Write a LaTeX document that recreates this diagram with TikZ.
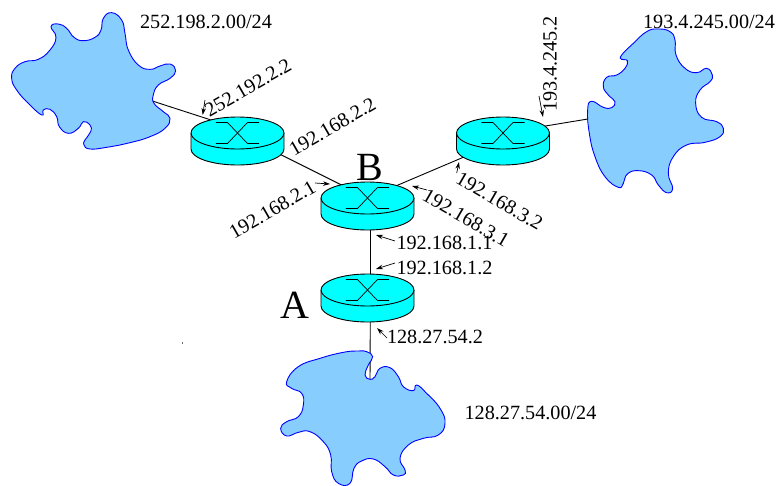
\documentclass[tikz,border=0pt]{standalone}
\usepackage{fontspec}
\setmainfont{Liberation Serif}
\usetikzlibrary{shapes.geometric,arrows.meta}

\definecolor{netblue}{RGB}{135,206,255}
\definecolor{rtrcyan}{RGB}{0,255,255}

\tikzset{
  rtr/.style={ellipse,minimum width=93pt,minimum height=32pt,inner sep=0pt},
  addr/.style={font=\fontsize{20.2}{24}\selectfont,inner sep=1pt},
  big/.style={font=\fontsize{40}{44}\selectfont,inner sep=0pt},
  ptr/.style={-{Stealth[length=7pt,width=4.5pt]},line width=0.7pt},
  link/.style={black,line width=0.9pt},
  cloud/.style={draw=blue,fill=netblue,line width=0.9pt,smooth cycle,tension=0.8},
  traced/.style={x=0.33333pt,y=-0.33333pt}
}

% one router, drawn over the links
\newcommand{\router}[1]{
  \begin{scope}[shift={(#1.center)}]
    \draw[link,fill=rtrcyan] (-46.5,0) -- (-46.5,-16) arc[start angle=180,end angle=360,x radius=46.5,y radius=16] -- (46.5,0);
    \draw[link,fill=rtrcyan] (0,0) ellipse [x radius=46.5,y radius=16];
    \draw[line width=0.7pt] (-21.7,10.5) -- (-10,10.5) -- (10,-10.5) -- (21.7,-10.5);
    \draw[line width=0.7pt] (21.7,10.5) -- (10,10.5) -- (-10,-10.5) -- (-21.7,-10.5);
  \end{scope}
}

\begin{document}
\begin{tikzpicture}[x=1pt,y=1pt]
\useasboundingbox (0,0) rectangle (779,-485);

% routers
\node [rtr] (rl) at (237.5,-133) {};
\node [rtr] (rr) at (503,-133) {};
\node [rtr] (rb) at (367.5,-198) {};
\node [rtr] (ra) at (367.5,-290) {};

% networks
\coordinate (netl) at (140,-97);
\coordinate (netr) at (600,-117);
\coordinate (netb) at (370,-382);

% links
\draw [link] (netl) -- (rl.154);
\draw [link] (rl.center) -- (rb.center);
\draw [link] (rb.center) -- (rr.220);
\draw [link] (rr.center) -- (netr);
\draw [link] (rb.-80) -- (ra.80);
\draw [link] (ra.-80) -- (netb);

% clouds
\path [cloud,traced] plot coordinates {(335,38) (310,55) (303,90) (285,112) (250,122) (222,112) (200,85) (175,72) (153,80) (168,112) (150,150) (115,178) (75,185) (45,205) (35,235) (50,270) (85,310) (125,345) (130,330) (150,328) (170,350) (178,380) (205,400) (235,385) (250,365) (270,375) (272,395) (255,420) (252,435) (270,447) (320,442) (390,428) (450,410) (495,385) (510,355) (490,335) (462,310) (460,285) (475,255) (510,235) (527,212) (510,192) (480,198) (450,208) (415,195) (385,150) (375,100) (365,60)};
\begin{scope}[shift={(390,0)}]
\path [cloud,traced] plot coordinates {(805,87) (770,95) (730,130) (695,165) (695,178) (712,182) (705,205) (680,225) (650,232) (640,260) (655,285) (675,305) (665,323) (640,322) (605,304) (593,330) (598,400) (615,470) (645,530) (685,562) (700,550) (712,522) (745,512) (785,525) (805,555) (830,578) (848,565) (835,520) (850,470) (890,435) (945,427) (990,410) (1000,385) (980,365) (935,352) (917,310) (930,270) (960,245) (967,225) (950,205) (920,218) (885,205) (858,165) (855,120) (840,95)};
\end{scope}
\begin{scope}[shift={(230,-225)}]
\path [cloud,traced] plot coordinates {(385,378) (340,382) (270,400) (205,425) (170,470) (185,490) (215,505) (220,540) (205,575) (170,590) (152,610) (170,633) (205,622) (240,620) (280,650) (302,690) (305,740) (325,775) (360,775) (372,730) (395,708) (430,702) (465,725) (490,750) (520,750) (525,735) (510,700) (535,660) (580,640) (625,630) (645,595) (630,550) (590,505) (560,480) (550,497) (520,485) (505,455) (480,428) (450,430) (435,455) (420,463) (405,450) (415,420) (428,395) (410,380)};
\end{scope}

\router{rl}
\router{rr}
\router{rb}
\router{ra}

% addresses
\node [addr] (nl) at (206,-21.5) {252.198.2.00/24};
\node [addr] (nr) at (709,-21.5) {193.4.245.00/24};
\node [addr] (nb) at (530.5,-413) {128.27.54.00/24};
\node [addr,rotate=30] (l1) at (248,-87.5) {252.192.2.2};
\node [addr,rotate=30] (l2) at (332.5,-126.5) {192.168.2.2};
\node [addr,rotate=30] (b2) at (272.5,-209.5) {192.168.2.1};
\node [addr,rotate=90] (r1) at (550,-64) {193.4.245.2};
\node [addr,rotate=-30] (r2) at (499.5,-201) {192.168.3.2};
\node [addr,rotate=-30] (b3) at (466,-218) {192.168.3.1};
\node [addr] (b1) at (444.5,-243) {192.168.1.1};
\node [addr] (a1) at (444.5,-268) {192.168.1.2};
\node [addr] (a0) at (435,-336.7) {128.27.54.2};
\node [big] (namea) at (295,-305) {A};
\node [big] (nameb) at (369.5,-167.5) {B};
\node [fill=black!60,inner sep=0pt,minimum size=1.2pt] (speck) at (182.5,-343) {};

% arrows to the interfaces
\foreach \n/\p in {tl1/{205,-100},hl1/{202.7,-115},tb2/{315,-183},hb2/{330,-184},tr1/{539,-96},hr1/{543,-117},tr2/{456.7,-173},hr2/{459,-162},tb3/{427,-190},hb3/{412,-186},tb1/{395,-241},hb1/{376,-235},ta1/{395,-263},ha1/{376,-269},ta0/{387,-338},ha0/{377,-328}}
  \coordinate (\n) at (\p);
\draw [ptr] (tl1) -- (hl1);
\draw [ptr] (tb2) -- (hb2);
\draw [ptr] (tr1) -- (hr1);
\draw [ptr] (tr2) -- (hr2);
\draw [ptr] (tb3) -- (hb3);
\draw [ptr] (tb1) -- (hb1);
\draw [ptr] (ta1) -- (ha1);
\draw [ptr] (ta0) -- (ha0);
\end{tikzpicture}
\end{document}
